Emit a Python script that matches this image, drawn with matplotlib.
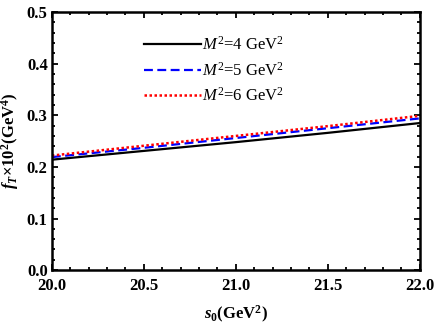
import matplotlib
matplotlib.use("Agg")
import matplotlib.pyplot as plt
from matplotlib.ticker import MultipleLocator, FormatStrFormatter

s0 = [20.0, 20.5, 21.0, 21.5, 22.0]
f_M4 = [0.214, 0.231, 0.248, 0.266, 0.285]
f_M5 = [0.219, 0.237, 0.256, 0.275, 0.294]
f_M6 = [0.222, 0.241, 0.260, 0.279, 0.299]
labels = [r"$M^2$=4 GeV$^2$", r"$M^2$=5 GeV$^2$", r"$M^2$=6 GeV$^2$"]

plt.rcParams['font.family'] = ['Liberation Serif', 'DejaVu Serif']
plt.rcParams['font.weight'] = 'bold'
plt.rcParams['mathtext.fontset'] = 'custom'
plt.rcParams['mathtext.rm'] = 'Liberation Serif:normal'
plt.rcParams['mathtext.it'] = 'Liberation Serif:italic:normal'
plt.rcParams['mathtext.bf'] = 'Liberation Serif:bold'
plt.rcParams['mathtext.bfit'] = 'Liberation Serif:bold:italic'

fig = plt.figure(figsize=(4.36, 3.27), dpi=100)
ax = fig.add_axes([0.119, 0.174, 0.844, 0.789])

ax.plot(s0, f_M4, color='black', lw=1.6, ls='-', label=labels[0])
ax.plot(s0, f_M5, color='blue', lw=1.6, ls=(0, (4, 2)), label=labels[1])
ax.plot(s0, f_M6, color='red', lw=1.8, ls=(0, (1, 1)), label=labels[2])

ax.set_xlim(20.0, 22.0)
ax.set_ylim(0.0, 0.5)
ax.xaxis.set_major_locator(MultipleLocator(0.5))
ax.xaxis.set_minor_locator(MultipleLocator(0.1))
ax.yaxis.set_major_locator(MultipleLocator(0.1))
ax.yaxis.set_minor_locator(MultipleLocator(0.02))
ax.xaxis.set_major_formatter(FormatStrFormatter('%.1f'))
ax.yaxis.set_major_formatter(FormatStrFormatter('%.1f'))
ax.tick_params(which='both', direction='in', top=True, right=True, width=1.3)
ax.tick_params(which='major', length=4, labelsize=12)
ax.tick_params(axis='x', which='major', pad=6)
ax.tick_params(axis='y', which='major', pad=3)
ax.tick_params(which='minor', length=2)
for sp in ax.spines.values():
    sp.set_linewidth(1.8)

ax.set_xlabel(r"$\mathbfit{s}_\mathbf{0}$(GeV$^\mathbf{2}$)", fontsize=12, fontweight='bold', labelpad=7)
ax.set_ylabel(r"$\mathbfit{f}_\mathbfit{T}$×10$^\mathbf{2}$(GeV$^\mathbf{4}$)", fontsize=12, fontweight='bold')
ax.yaxis.set_label_coords(-0.085, 0.5)

leg = ax.legend(loc='upper left', bbox_to_anchor=(0.21, 0.965), frameon=False,
                prop={'family': 'Liberation Serif', 'weight': 'normal', 'size': 12},
                handlelength=3.4, handletextpad=0.1, labelspacing=0.45)

fig.savefig("out.png", dpi=100)
